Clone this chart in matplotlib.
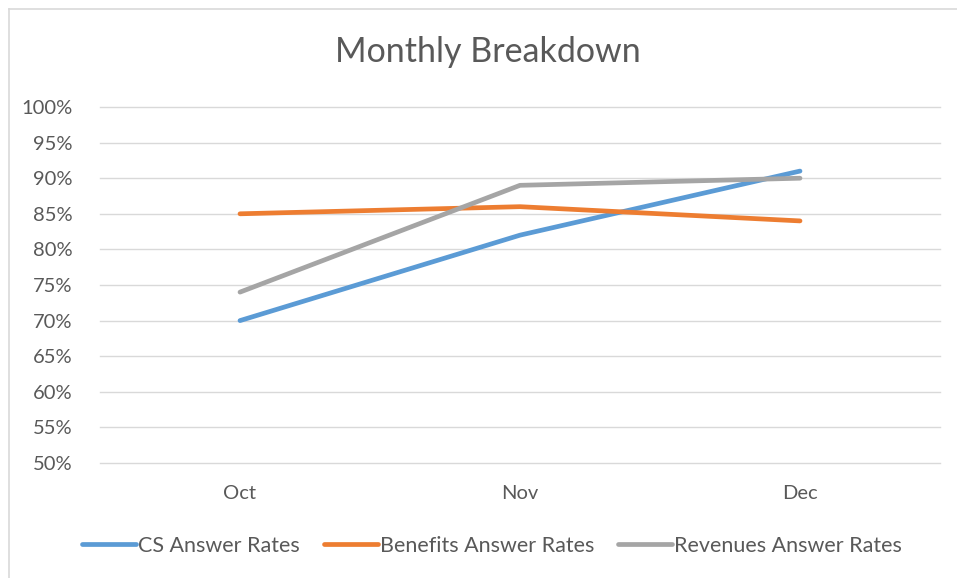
import matplotlib.pyplot as plt
from matplotlib.lines import Line2D

months = ["Oct", "Nov", "Dec"]
cs_rates = [70, 82, 91]
benefits_rates = [85, 86, 84]
revenues_rates = [74, 89, 90]
y_ticks = [50, 55, 60, 65, 70, 75, 80, 85, 90, 95, 100]

plt.rcParams["font.family"] = ["Lato", "DejaVu Sans"]
text_col = "#595959"
W, H = 957, 578

fig = plt.figure(figsize=(9.57, 5.78), dpi=100)
# chart frame: only top and left edges are inside the picture
fig.lines.append(Line2D([8.5 / W, 8.5 / W], [0, 1 - 8.5 / H], transform=fig.transFigure,
                        color="#D9D9D9", lw=1.2))
fig.lines.append(Line2D([8.5 / W, 1], [1 - 8.5 / H, 1 - 8.5 / H], transform=fig.transFigure,
                        color="#D9D9D9", lw=1.2))

ax = fig.add_axes([100 / W, 1 - 463 / H, 840 / W, 356 / H])
x = range(len(months))
ax.plot(x, cs_rates, color="#5B9BD5", lw=3.4, label="CS Answer Rates", solid_capstyle="round")
ax.plot(x, benefits_rates, color="#ED7D31", lw=3.4, label="Benefits Answer Rates", solid_capstyle="round")
ax.plot(x, revenues_rates, color="#A5A5A5", lw=3.4, label="Revenues Answer Rates", solid_capstyle="round")

ax.set_xlim(-0.5, 2.5)
ax.set_ylim(50, 100)
ax.set_yticks(y_ticks)
ax.set_yticklabels([f"{v}%" for v in y_ticks])
ax.set_xticks(list(x))
ax.set_xticklabels(months)
ax.grid(axis="y", color="#D9D9D9", lw=1)
for gl in ax.get_ygridlines():
    gl.set_clip_on(False)
ax.set_axisbelow(True)
for s in ax.spines.values():
    s.set_visible(False)
ax.tick_params(length=0, labelsize=14.5, colors=text_col)
ax.tick_params(axis="y", pad=20)
ax.tick_params(axis="x", pad=16)

fig.text(488 / W, 1 - 52 / H, "Monthly Breakdown", ha="center", va="center", fontsize=24.5, color=text_col)

leg = fig.legend(loc="center", bbox_to_anchor=(492 / W, 1 - 546 / H), ncol=3, frameon=False,
                 fontsize=15.5, handlelength=2.5, columnspacing=1.1, handletextpad=0.1)
for t in leg.get_texts():
    t.set_color(text_col)

fig.savefig("out.png", dpi=100)
